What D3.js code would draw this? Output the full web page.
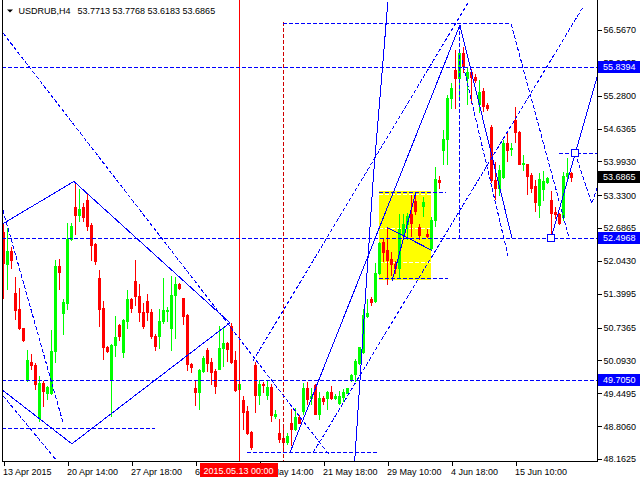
<!DOCTYPE html>
<html><head><meta charset="utf-8">
<script src="https://cdn.jsdelivr.net/npm/d3@7"></script>
<style>
html,body{margin:0;padding:0;background:#fff;}
svg{display:block;font-family:"Liberation Sans",Arial,sans-serif;}
</style></head><body>
<svg id="c" width="640" height="480"></svg>
<script>
// ---- data (H4 candles) ----
const opens = [52.60,51.99,52.23,51.42,51.11,50.72,49.71,50.07,50.01,48.97,49.66,49.46,49.46,50.28,51.95,51.03,51.21,52.48,53.09,52.95,53.09,53.23,52.74,52.37,51.70,51.13,50.36,49.73,50.40,50.79,50.26,50.87,51.29,51.64,51.36,51.05,51.25,51.05,50.58,50.58,50.87,51.07,50.72,51.38,51.60,51.32,50.99,50.03,49.56,49.48,49.89,50.30,50.07,49.89,49.93,50.34,50.44,50.76,50.11,49.54,49.32,49.11,48.69,50.01,49.42,49.64,49.42,49.58,49.01,48.67,48.57,48.50,48.87,48.75,48.99,49.11,49.56,49.36,49.62,49.05,49.36,49.36,49.48,49.36,49.26,49.38,49.46,49.73,49.83,50.05,50.26,50.97,51.30,51.25,51.80,52.41,52.25,52.09,51.99,51.91,52.58,52.76,52.97,53.21,52.70,53.11,52.58,52.29,52.84,53.62,54.21,54.43,55.23,55.78,55.62,56.12,55.62,55.74,55.64,55.11,55.37,55.09,54.66,53.62,53.48,53.68,54.35,54.23,54.80,54.56,53.94,53.94,53.72,53.52,53.13,53.46,53.58,53.23,53.01,52.97,52.90,53.70,53.7713];
const highs = [52.76,52.68,52.31,51.72,51.52,50.73,50.30,50.21,50.05,49.79,49.69,49.60,50.68,52.07,52.09,51.29,52.78,52.78,53.58,53.46,53.17,53.37,52.78,52.39,51.87,51.25,50.38,50.42,50.97,50.81,50.91,51.48,51.32,52.07,51.60,51.21,51.40,51.11,50.62,51.11,51.70,51.15,51.74,51.72,51.62,51.32,51.01,50.05,49.71,49.93,50.19,50.34,50.15,49.93,50.77,50.72,50.46,50.83,50.28,49.64,49.40,49.20,48.71,50.07,49.71,49.67,49.69,49.64,49.12,48.95,48.77,48.67,49.14,49.16,49.03,49.66,49.67,49.56,49.64,49.48,49.40,49.50,49.60,49.44,49.50,49.54,49.56,49.83,50.13,50.36,51.11,51.30,51.34,52.01,52.41,52.48,52.68,52.21,52.05,52.97,52.97,52.99,53.33,53.39,52.76,53.29,52.66,52.90,53.88,53.70,54.60,55.29,55.53,56.17,56.17,56.23,55.82,55.80,55.70,55.58,55.43,55.13,54.70,53.98,53.92,54.41,54.54,54.35,55.05,54.58,54.11,53.95,53.76,53.62,53.76,53.80,53.68,53.41,53.09,52.99,53.78,54.05,53.7768];
const lows = [51.32,51.50,51.91,50.91,50.70,50.48,49.69,49.93,49.54,48.91,49.20,49.34,49.44,50.07,51.50,50.62,51.11,52.46,52.58,52.82,52.82,52.64,52.07,51.99,50.77,50.13,50.26,49.01,50.19,50.50,50.17,50.72,51.05,51.17,50.87,50.73,50.89,50.54,50.30,50.34,50.83,50.87,50.30,50.54,51.50,50.81,49.91,49.87,49.22,49.14,49.87,49.89,49.64,49.46,49.93,49.99,50.09,50.05,49.50,49.52,48.75,48.65,48.36,49.09,49.24,49.48,49.34,48.91,48.97,48.50,48.38,48.46,48.44,48.73,48.87,49.05,49.24,49.24,49.05,48.95,49.24,49.14,49.34,49.34,49.24,49.30,49.46,49.69,49.69,50.03,50.24,50.95,51.17,51.23,51.78,52.05,51.60,51.76,51.81,51.72,52.54,52.48,52.54,52.97,52.48,52.93,52.52,52.25,52.72,53.48,53.95,53.95,55.03,55.03,55.19,55.74,55.11,55.13,55.55,54.96,54.98,55.00,53.58,53.25,53.33,53.66,54.01,54.11,54.37,53.95,53.82,53.35,53.39,53.03,52.91,53.23,53.56,52.4968,52.88,52.76,52.84,53.66,53.6183];
const closes = [52.01,52.23,52.07,51.09,50.72,50.50,50.11,50.01,49.64,49.66,49.50,49.58,50.28,51.95,51.83,51.23,52.48,52.72,52.95,53.07,52.91,52.72,52.35,52.05,51.11,50.36,50.28,50.40,50.56,50.58,50.89,51.30,51.13,51.36,51.05,50.76,51.05,50.58,50.38,50.87,51.09,51.09,51.38,51.60,51.52,50.97,50.03,49.97,49.48,49.91,50.15,50.05,49.87,49.60,50.34,50.44,50.32,50.07,49.52,49.64,49.09,48.67,48.40,49.42,49.64,49.62,49.58,49.03,49.05,48.56,48.50,48.61,48.75,48.99,48.87,49.56,49.34,49.40,49.05,49.36,49.30,49.48,49.36,49.40,49.40,49.48,49.56,49.81,50.09,50.36,50.99,51.03,51.23,51.80,52.39,52.21,52.07,51.99,51.91,52.66,52.76,52.93,52.78,53.03,52.56,53.19,52.54,52.84,53.64,53.58,54.43,55.23,55.43,55.62,56.12,55.86,55.74,55.64,55.58,55.35,55.07,55.03,53.62,53.48,53.82,54.35,54.21,54.25,54.56,53.95,53.97,53.70,53.48,53.19,53.64,53.60,53.66,52.99,52.97,52.78,53.70,53.76,53.6865];

const timeTickIndex = [0,16,32,48,64,80,96,112,128];
const timeTickLabels = ["13 Apr 2015","20 Apr 14:00","27 Apr 18:00","6 May 06:00","13 May 14:00","21 May 18:00","29 May 10:00","4 Jun 18:00","15 Jun 10:00"];
const priceTicks = [56.5670,55.9235,55.2800,54.6365,53.9930,53.3300,52.6865,52.0430,51.3995,50.7365,50.0930,49.4495,48.8060,48.1625];
const levelPrices = [55.8394,52.4968,49.7050];
const lastPrice = 53.6865;
const headerSymbol = "USDRUB,H4";
const headerValues = "53.7713 53.7768 53.6183 53.6865";
const markerIndex = 59;
const markerLabel = "2015.05.13 00:00";
const dashedMarkerIndex = 70;
const dashedMarkerTop = 56.724;

// drawn objects, as [bar index, price] points
const solidLines = [
  [[-0.4,52.76],[17.6,53.60],[56.6,50.83]],
  [[-0.4,49.52],[17.1,48.46],[56.6,50.83]],
  [[87.8,48.12],[92.4,53.62],[96.1,57.12]],
  [[71.6,48.285],[114.1,56.665],[127.1,52.4968]],
  [[136.9,52.4968],[148.4,55.644]],
  [[95.9,52.70],[107.1,52.25]],
  [[97.1,51.64],[103.1,53.39]]
];
const dashedLines = [
  [[69.9,56.685],[126.9,56.685],[141.4,52.4968]],
  [[114.6,55.98],[126.1,52.15]],
  [[113.9,56.665],[113.9,52.4968]],
  [[62.4,50.087],[116.1,57.097]],
  [[77.4,48.285],[144.9,57.019]],
  [[138.9,54.152],[148.4,54.152]],
  [[142.9,54.152],[147.1,53.17],[148.4,53.48]],
  [[-0.125,56.508],[81.6,48.226]],
  [[-0.125,53.032],[14.9,48.869]],
  [[-0.1,49.40],[13.4,48.12]],
  [[-0.4,48.752],[37.9,48.752]],
  [[60.9,48.285],[93.4,48.285]],
  [[93.9,53.386],[110.6,53.386]],
  [[93.9,51.697],[111.1,51.697]]
];
const boxMarkers = [[136.9,52.4968],[142.9,54.152]];
const yellowZone = {i0:93.9, i1:106.9, p0:53.406, p1:51.678};
const yellowInnerLevels = [53.347,52.679,52.031];

// ---- drawing ----
const W = 640, H = 480, L = 2, R = 597, B = 461;
const svg = d3.select("#c");
svg.append("rect").attr("width",W).attr("height",H).attr("fill","#fff");

const x = d3.scaleLinear().domain([0,142]).range([3.5,571.5]);
const y = d3.scaleLinear().domain([48.1625,56.5670]).range([459,30]);

svg.append("defs").append("clipPath").attr("id","pc")
  .append("rect").attr("x",L+0.5).attr("y",0).attr("width",R-L-0.5).attr("height",B);

const plot = svg.append("g").attr("clip-path","url(#pc)").attr("shape-rendering","crispEdges");
const BLUE = "#0000ff";

// yellow zone (background)
plot.append("rect")
  .attr("x",x(yellowZone.i0)).attr("width",x(yellowZone.i1)-x(yellowZone.i0))
  .attr("y",y(yellowZone.p0)).attr("height",y(yellowZone.p1)-y(yellowZone.p0))
  .attr("fill","#ffff00");
plot.selectAll(".yl").data(yellowInnerLevels).join("line")
  .attr("x1",x(yellowZone.i0)).attr("x2",x(yellowZone.i1))
  .attr("y1",d=>Math.round(y(d))+0.5).attr("y2",d=>Math.round(y(d))+0.5)
  .attr("stroke","#fff").attr("stroke-dasharray","4,2");

// candles
const cg = plot.append("g");
d3.range(opens.length).forEach(i=>{
  const up = closes[i] >= opens[i];
  const col = up ? "#00ff00" : "#ff0000";
  const cx = x(i);
  cg.append("line").attr("x1",cx).attr("x2",cx)
    .attr("y1",Math.round(y(highs[i]))).attr("y2",Math.round(y(lows[i]))+1)
    .attr("stroke",col);
  const yt = Math.round(y(Math.max(opens[i],closes[i])));
  const yb = Math.round(y(Math.min(opens[i],closes[i])));
  cg.append("rect").attr("x",cx-1.5).attr("width",3)
    .attr("y",yt).attr("height",Math.max(1,yb-yt+1)).attr("fill",col);
});

// vertical markers
plot.append("line").attr("x1",x(markerIndex)).attr("x2",x(markerIndex))
  .attr("y1",0).attr("y2",B).attr("stroke","#ff0000");
plot.append("line").attr("x1",x(dashedMarkerIndex)).attr("x2",x(dashedMarkerIndex))
  .attr("y1",y(dashedMarkerTop)).attr("y2",B).attr("stroke","#d00000").attr("stroke-dasharray","4,2");

// horizontal levels
plot.selectAll(".lv").data(levelPrices).join("line")
  .attr("x1",L).attr("x2",R)
  .attr("y1",d=>Math.round(y(d))+0.5).attr("y2",d=>Math.round(y(d))+0.5)
  .attr("stroke",BLUE).attr("stroke-dasharray","4,2");

const ln = d3.line().x(d=>x(d[0])).y(d=>y(d[1]));
plot.selectAll(".dl").data(dashedLines).join("path")
  .attr("d",ln).attr("fill","none").attr("stroke",BLUE).attr("stroke-dasharray","4,2");
plot.selectAll(".sl").data(solidLines).join("path")
  .attr("d",ln).attr("fill","none").attr("stroke",BLUE);
plot.selectAll(".bm").data(boxMarkers).join("rect")
  .attr("x",d=>Math.round(x(d[0]))-3.5).attr("y",d=>Math.round(y(d[1]))-3.5)
  .attr("width",7).attr("height",7).attr("fill","#fff").attr("stroke",BLUE);

// frame
const fr = svg.append("g").attr("shape-rendering","crispEdges").attr("stroke","#000");
fr.append("line").attr("x1",L+0.5).attr("x2",L+0.5).attr("y1",0).attr("y2",B+0.5);
fr.append("line").attr("x1",R+0.5).attr("x2",R+0.5).attr("y1",0).attr("y2",B+0.5);
fr.append("line").attr("x1",L).attr("x2",R+1).attr("y1",B+0.5).attr("y2",B+0.5);

// right axis
const ya = svg.append("g").attr("transform",`translate(${R+0.5},0)`)
  .call(d3.axisRight(y).tickValues(priceTicks).tickFormat(d3.format(".4f")).tickSize(4).tickPadding(2));
ya.select(".domain").remove();
ya.selectAll("line").attr("shape-rendering","crispEdges");
ya.selectAll("text").attr("font-size",9).attr("font-family","Liberation Sans, Arial, sans-serif").attr("fill","#000");

// bottom axis
const xa = svg.append("g").attr("transform",`translate(0,${B+0.5})`)
  .call(d3.axisBottom(x).tickValues(timeTickIndex).tickFormat((d,i)=>timeTickLabels[i]).tickSize(4).tickPadding(3));
xa.select(".domain").remove();
xa.selectAll("line").attr("shape-rendering","crispEdges");
xa.selectAll("text").attr("font-size",9).attr("font-family","Liberation Sans, Arial, sans-serif")
  .attr("text-anchor","start").attr("x",-1).attr("fill","#000");

// price labels
function priceTag(p, bg){
  const yy = Math.round(y(p));
  svg.append("rect").attr("x",R+1).attr("y",yy-6).attr("width",W-R-1).attr("height",12)
    .attr("fill",bg).attr("shape-rendering","crispEdges");
  svg.append("text").attr("x",R+6).attr("y",yy).attr("dy","0.35em")
    .attr("font-size",9).attr("fill","#fff").text(d3.format(".4f")(p));
}
levelPrices.forEach(p=>priceTag(p,BLUE));
priceTag(lastPrice,"#000");

// time marker label
const mx = x(markerIndex)-1;
svg.append("rect").attr("x",mx-39).attr("y",B+2).attr("width",78).attr("height",14)
  .attr("fill","#ff0000").attr("shape-rendering","crispEdges");
svg.append("text").attr("x",mx).attr("y",B+13).attr("text-anchor","middle")
  .attr("font-size",9).attr("fill","#fff").text(markerLabel);

// header
svg.append("path").attr("d","M7,9.5H13L10,12.5Z").attr("fill","#000");
svg.append("text").attr("x",18.5).attr("y",14).attr("font-size",9).attr("fill","#000")
  .text(headerSymbol);
svg.append("text").attr("x",77.5).attr("y",14).attr("font-size",9).attr("fill","#000")
  .text(headerValues);
</script>
</body></html>
